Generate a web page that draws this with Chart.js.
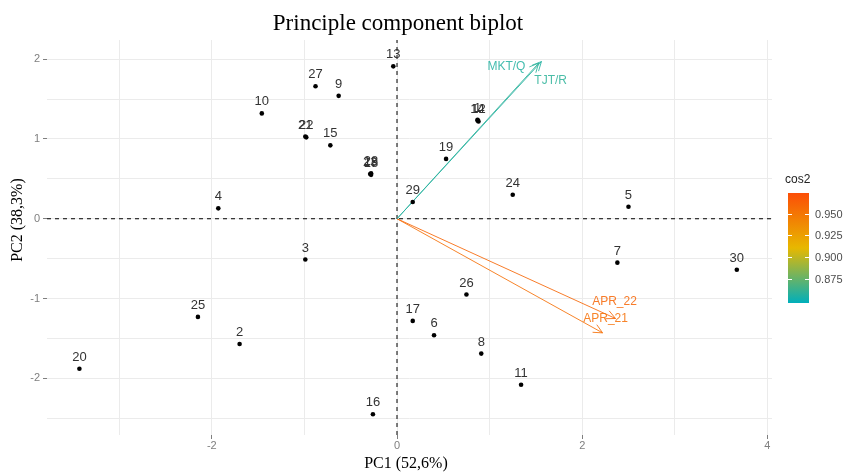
<!DOCTYPE html>
<html>
<head>
<meta charset="utf-8">
<script src="https://cdn.jsdelivr.net/npm/chart.js@4.4.0/dist/chart.umd.min.js"></script>
<style>
    html, body { margin: 0; padding: 0; background: #fff; }
    #wrap { width: 843px; height: 476px; }
</style>
</head>
<body>
<div id="wrap"><canvas id="biplotChart"></canvas></div>
<script>
// Observations (individuals)
const obsLabels = ['1', '2', '3', '4', '5', '6', '7', '8', '9', '10',
    '11', '12', '13', '14', '15', '16', '17', '18', '19', '20',
    '21', '22', '23', '24', '25', '26', '27', '28', '29', '30'];
const obsPc1 = [0.87, -1.70, -0.99, -1.93, 2.50, 0.40, 2.38, 0.91, -0.63, -1.46,
    1.34, 0.88, -0.04, 0.87, -0.72, -0.26, 0.17, -0.28, 0.53, -3.43,
    -0.99, -0.98, -0.29, 1.25, -2.15, 0.75, -0.88, -0.28, 0.17, 3.67];
const obsPc2 = [1.24, -1.57, -0.51, 0.13, 0.15, -1.46, -0.55, -1.69, 1.54, 1.32,
    -2.08, 1.22, 1.91, 1.23, 0.92, -2.45, -1.28, 0.55, 0.75, -1.88,
    1.03, 1.02, 0.56, 0.30, -1.23, -0.95, 1.66, 0.57, 0.21, -0.64];

// Variables (arrows)
const varNames = ['MKT/Q', 'TJT/R', 'APR_22', 'APR_21'];
const varPc1 = [1.56, 1.53, 2.36, 2.22];
const varPc2 = [1.97, 1.95, -1.25, -1.43];
const varCos2 = [0.856, 0.859, 0.960, 0.955];

// Axis / legend ticks
const xTickLabels = [-2, 0, 2, 4];
const yTickLabels = [-2, -1, 0, 1, 2];
const cos2Ticks = [0.875, 0.900, 0.925, 0.950];
const cos2Range = [0.847, 0.974];

const X_MIN = -3.78, X_MAX = 4.05, Y_MIN = -2.71, Y_MAX = 2.24;
const gradColors = [[0, 175, 187], [231, 184, 0], [252, 78, 7]];

function cos2Color(v, alpha) {
    let t = (v - cos2Range[0]) / (cos2Range[1] - cos2Range[0]);
    t = Math.max(0, Math.min(1, t));
    const seg = t < 0.5 ? 0 : 1;
    const f = t < 0.5 ? t / 0.5 : (t - 0.5) / 0.5;
    const a = gradColors[seg], b = gradColors[seg + 1];
    const c = a.map((ch, k) => Math.round(ch + (b[k] - ch) * f));
    return 'rgba(' + c.join(',') + ',' + (alpha == null ? 1 : alpha) + ')';
}

// label nudges in pixels for the arrow labels
const varLabelNudge = [[-35, 5], [12, 18], [-1, -17], [3, -14]];

const biplotExtras = {
    id: 'biplotExtras',
    afterDatasetsDraw(chart) {
        const ctx = chart.ctx;
        const xs = chart.scales.x, ys = chart.scales.y;
        const ox = xs.getPixelForValue(0), oy = ys.getPixelForValue(0);

        // arrow heads + variable labels
        varNames.forEach((name, i) => {
            const ex = xs.getPixelForValue(varPc1[i]);
            const ey = ys.getPixelForValue(varPc2[i]);
            const ang = Math.atan2(ey - oy, ex - ox);
            ctx.save();
            ctx.strokeStyle = cos2Color(varCos2[i], 0.85);
            ctx.lineWidth = 1;
            ctx.beginPath();
            [-0.45, 0.45].forEach(d => {
                ctx.moveTo(ex, ey);
                ctx.lineTo(ex - 10 * Math.cos(ang + d), ey - 10 * Math.sin(ang + d));
            });
            ctx.stroke();
            ctx.fillStyle = cos2Color(varCos2[i], 0.85);
            ctx.font = '12px "Liberation Sans", Arial, sans-serif';
            ctx.textAlign = 'center';
            ctx.textBaseline = 'middle';
            ctx.fillText(name, ex + varLabelNudge[i][0], ey + varLabelNudge[i][1]);
            ctx.restore();
        });

        // observation labels
        ctx.save();
        ctx.fillStyle = '#333';
        ctx.font = '13px "Liberation Sans", Arial, sans-serif';
        ctx.textAlign = 'center';
        ctx.textBaseline = 'bottom';
        obsLabels.forEach((lab, i) => {
            const px = xs.getPixelForValue(obsPc1[i]);
            const py = ys.getPixelForValue(obsPc2[i]);
            ctx.fillText(lab, px, py - 5);
        });
        ctx.restore();
    },
    afterDraw(chart) {
        const ctx = chart.ctx;
        ctx.save();
        // titles
        ctx.fillStyle = '#000';
        ctx.textAlign = 'center';
        ctx.textBaseline = 'middle';
        ctx.font = '23px "Liberation Serif", "Times New Roman", serif';
        ctx.fillText('Principle component biplot', 398, 24);
        ctx.font = '16px "Liberation Serif", "Times New Roman", serif';
        ctx.fillText('PC1 (52,6%)', 406, 464);
        ctx.save();
        ctx.translate(18, 220);
        ctx.rotate(-Math.PI / 2);
        ctx.fillText('PC2 (38,3%)', 0, 0);
        ctx.restore();

        // cos2 colour bar
        const bx = 788, bw = 21, bTop = 193, bBot = 303;
        const grad = ctx.createLinearGradient(0, bBot, 0, bTop);
        gradColors.forEach((c, k) => grad.addColorStop(k / 2, 'rgb(' + c.join(',') + ')'));
        ctx.fillStyle = grad;
        ctx.fillRect(bx, bTop, bw, bBot - bTop);
        const valY = v => bBot - (v - cos2Range[0]) / (cos2Range[1] - cos2Range[0]) * (bBot - bTop);
        ctx.strokeStyle = '#fff';
        ctx.lineWidth = 1;
        ctx.font = '11px "Liberation Sans", Arial, sans-serif';
        ctx.fillStyle = '#4d4d4d';
        ctx.textAlign = 'left';
        cos2Ticks.forEach(v => {
            const y = Math.round(valY(v)) + 0.5;
            ctx.beginPath();
            ctx.moveTo(bx, y); ctx.lineTo(bx + 4, y);
            ctx.moveTo(bx + bw - 4, y); ctx.lineTo(bx + bw, y);
            ctx.stroke();
            ctx.fillText(v.toFixed(3), bx + 27, y);
        });
        ctx.fillStyle = '#222';
        ctx.font = '12px "Liberation Sans", Arial, sans-serif';
        ctx.fillText('cos2', 785, 180);
        ctx.restore();
    }
};

const gridColor = '#ebebeb';
const tickGrey = '#7f7f7f';

new Chart(document.getElementById('biplotChart'), {
    type: 'scatter',
    data: {
        datasets: [
            {
                label: 'individuals',
                data: obsPc1.map((x, i) => ({ x: x, y: obsPc2[i] })),
                backgroundColor: '#000',
                borderWidth: 0,
                pointRadius: 2.3,
                pointHoverRadius: 2.3,
            },
            ...varNames.map((name, i) => ({
                label: name,
                data: [{ x: 0, y: 0 }, { x: varPc1[i], y: varPc2[i] }],
                showLine: true,
                borderColor: cos2Color(varCos2[i], 0.85),
                borderWidth: 1,
                pointRadius: 0,
            })),
            {
                label: 'h0',
                data: [{ x: X_MIN, y: 0 }, { x: X_MAX, y: 0 }],
                showLine: true,
                borderColor: '#000',
                borderWidth: 1,
                borderDash: [4, 4],
                pointRadius: 0,
            },
            {
                label: 'v0',
                data: [{ x: 0, y: Y_MIN }, { x: 0, y: Y_MAX }],
                showLine: true,
                borderColor: '#000',
                borderWidth: 1,
                borderDash: [4, 4],
                pointRadius: 0,
            },
        ],
    },
    options: {
        responsive: true,
        maintainAspectRatio: false,
        animation: false,
        layout: { padding: { top: 40, right: 71, left: 0, bottom: 0 } },
        plugins: {
            legend: { display: false },
            title: { display: false },
            tooltip: { enabled: false },
        },
        scales: {
            x: {
                type: 'linear',
                min: X_MIN,
                max: X_MAX,
                afterBuildTicks: s => { s.ticks = [-3, -2, -1, 0, 1, 2, 3, 4].map(v => ({ value: v })); },
                afterFit: s => { s.height = 41; },
                ticks: {
                    autoSkip: false,
                    maxRotation: 0,
                    padding: 0,
                    color: tickGrey,
                    font: { size: 11, family: '"Liberation Sans", Arial, sans-serif' },
                    callback: v => xTickLabels.includes(v) ? String(v) : '',
                },
                grid: {
                    color: gridColor,
                    tickLength: 4,
                    tickColor: c => xTickLabels.includes(c.tick.value) ? tickGrey : 'rgba(0,0,0,0)',
                },
                border: { display: false },
            },
            y: {
                type: 'linear',
                min: Y_MIN,
                max: Y_MAX,
                afterBuildTicks: s => { s.ticks = [-2.5, -2, -1.5, -1, -0.5, 0, 0.5, 1, 1.5, 2].map(v => ({ value: v })); },
                afterFit: s => { s.width = 47; },
                ticks: {
                    autoSkip: false,
                    padding: 3,
                    color: tickGrey,
                    font: { size: 11, family: '"Liberation Sans", Arial, sans-serif' },
                    callback: v => yTickLabels.includes(v) ? String(v) : '',
                },
                grid: {
                    color: gridColor,
                    tickLength: 4,
                    tickColor: c => yTickLabels.includes(c.tick.value) ? tickGrey : 'rgba(0,0,0,0)',
                },
                border: { display: false },
            },
        },
    },
    plugins: [biplotExtras],
});
</script>
</body>
</html>
